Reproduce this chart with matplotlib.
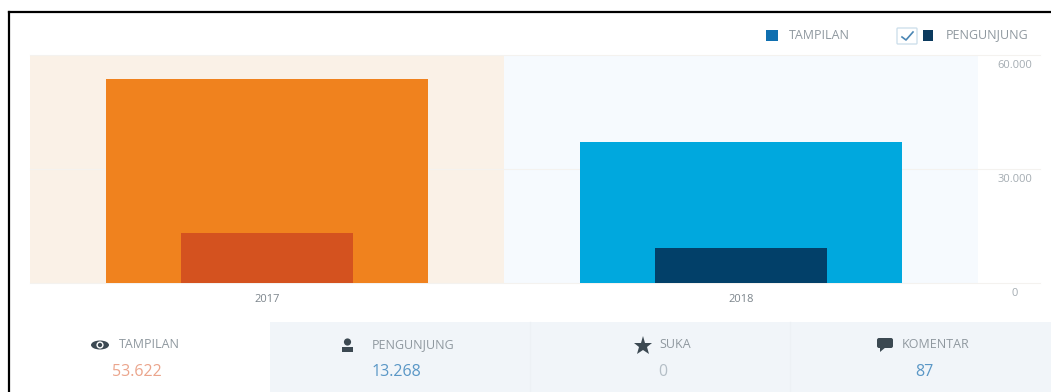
import matplotlib
matplotlib.use('Agg')
import matplotlib.pyplot as plt
from matplotlib.patches import Rectangle, Ellipse, Circle, Polygon, FancyBboxPatch

years = ['2017', '2018']
tampilan = [53622, 37100]
pengunjung = [13268, 9200]
y_ticks = [0, 30000, 60000]
y_tick_labels = ['0', '30.000', '60.000']
stat_names = ['TAMPILAN', 'PENGUNJUNG', 'SUKA', 'KOMENTAR']
stat_values = ['53.622', '13.268', '0', '87']
stat_colors = ['#eba58c', '#5a97c6', '#b4bec6', '#5a97c6']

W, H = 1051, 392
plt.rcParams['font.family'] = 'Open Sans'

fig = plt.figure(figsize=(W / 100, H / 100), dpi=100, facecolor='white')

# full-figure overlay in pixel coordinates for the frame, legend and stats
bg = fig.add_axes([0, 0, 1, 1])
bg.set_xlim(0, W)
bg.set_ylim(H, 0)
bg.axis('off')

bg.add_patch(Rectangle((270, 322), W - 270, H - 322, fc='#f1f5f9', ec='none'))
bg.plot([530, 530], [322, H], color='#edf1f5', lw=1)
bg.plot([790, 790], [322, H], color='#edf1f5', lw=1)
bg.plot([9, 9], [12, H], color='black', lw=1.6)
bg.plot([9, W], [12, 12], color='black', lw=1.6)

# legend
text_grey = '#8f989f'
bg.add_patch(Rectangle((766, 30), 12, 11, fc='#0f6fb0', ec='none'))
bg.text(819, 35, 'TAMPILAN', fontsize=9, color=text_grey, va='center', ha='center')
bg.add_patch(FancyBboxPatch((897, 28), 20, 16, boxstyle='round,pad=0,rounding_size=1',
                            fc='white', ec='#cfe0ec', lw=1))
bg.plot([902, 906, 913], [37, 40, 32], color='#4a86b4', lw=1.2)
bg.add_patch(Rectangle((923, 30), 10, 11, fc='#0b3a5e', ec='none'))
bg.text(987, 35, 'PENGUNJUNG', fontsize=9, color=text_grey, va='center', ha='center')

# main chart
ax = fig.add_axes([30 / W, 1 - 283 / H, 948 / W, 228 / H])
ax.patch.set_alpha(0)
x = range(len(years))
ax.axvspan(-0.5, 0.5, color='#faf1e7', lw=0, zorder=0)
ax.axvspan(0.5, 1.5, color='#f6fafe', lw=0, zorder=0)
ax.bar(x, tampilan, width=0.68, color=['#f0821e', '#00a8de'], zorder=3)
ax.bar(x, pengunjung, width=0.363, color=['#d4521f', '#024069'], zorder=4)
ax.set_xlim(-0.5, 1.5)
ax.set_ylim(0, 60000)
ax.set_yticks(y_ticks)
ax.set_yticklabels([])
ax.set_xticks(list(x))
ax.set_xticklabels(years, fontsize=8, color='#7c858c')
ax.tick_params(length=0, pad=8)
for s in ax.spines.values():
    s.set_visible(False)

# gridlines run past the bands, out under the value labels
for v, lab in zip(y_ticks, y_tick_labels):
    ax.plot([0, 1.065], [v, v], transform=ax.get_yaxis_transform(), clip_on=False,
            color='#f4f2ef', lw=0.8, zorder=1)
    ax.annotate(lab, (1.0, v / 60000), xycoords='axes fraction', xytext=(37, -10),
                textcoords='offset pixels', ha='center', va='center', fontsize=8,
                color='#a4acb2', annotation_clip=False)

# stats row
name_x = [149, 413, 675, 936]
value_x = [137, 396, 663, 924]
for nx, vx, name, val, col in zip(name_x, value_x, stat_names, stat_values, stat_colors):
    bg.text(nx, 345, name, fontsize=9, color=text_grey, va='center', ha='center')
    bg.text(vx, 372, val, fontsize=11.5, color=col, va='center', ha='center')

icon = '#3c4952'
# eye
bg.add_patch(Ellipse((100, 345), 18, 9, fc=icon, ec='none'))
bg.add_patch(Circle((100, 345), 3.6, fc='white', ec='none'))
bg.add_patch(Circle((100, 345), 2.2, fc=icon, ec='none'))
# person
bg.add_patch(Circle((347.5, 342), 3.6, fc=icon, ec='none'))
bg.add_patch(Rectangle((342, 347), 11, 5, fc=icon, ec='none'))
# star
bg.plot([643], [346], marker='*', ms=14, color=icon, mew=0)
# comment bubble
bg.add_patch(FancyBboxPatch((877, 338), 16, 10, boxstyle='round,pad=0,rounding_size=2', fc=icon, ec='none'))
bg.add_patch(Polygon([[880, 347], [880, 352], [886, 347]], fc=icon, ec='none'))

fig.savefig('out.png', dpi=100)
